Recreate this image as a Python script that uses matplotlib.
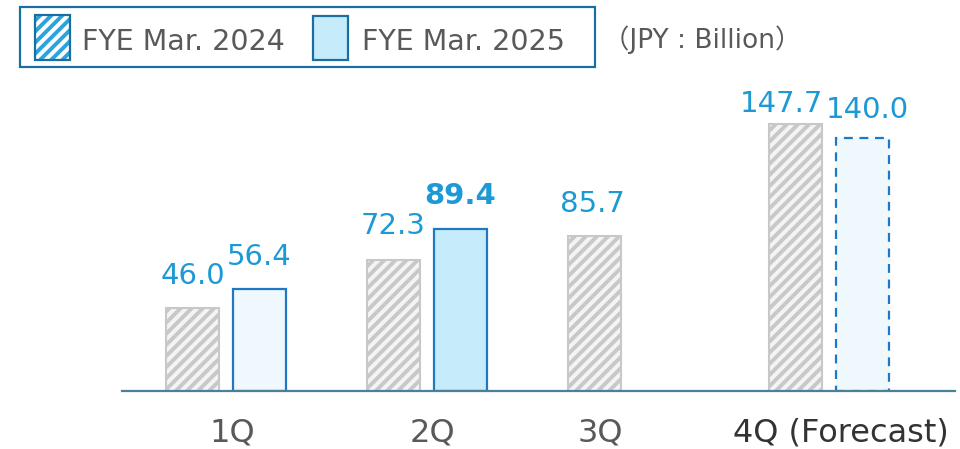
import matplotlib
matplotlib.use("Agg")
import matplotlib.pyplot as plt
from matplotlib.patches import Rectangle
import numpy as np

# ---- data ----
categories = ["1Q", "2Q", "3Q", "4Q (Forecast)"]
fy2024 = [46.0, 72.3, 85.7, 147.7]
fy2025 = [56.4, 89.4, None, 140.0]
legend_labels = ["FYE Mar. 2024", "FYE Mar. 2025"]
unit_label = "（JPY : Billion）"

plt.rcParams["font.family"] = ["DejaVu Sans", "Noto Sans CJK JP"]
plt.rcParams["hatch.linewidth"] = 2.8

W, H = 960, 449
fig = plt.figure(figsize=(W / 100, H / 100), dpi=100)

def fx(px):
    return px / W

def fy(py):
    return 1 - py / H

# axes geometry (pixel based)
ax_left, ax_right, ax_base, ax_top = 122, 955, 391, 75
ax = fig.add_axes([fx(ax_left), fy(ax_base), (ax_right - ax_left) / W, (ax_base - ax_top) / H])
px_per_unit_x = 201.0
px_per_unit_y = 1.8077
ax.set_xlim((ax_left - 226) / px_per_unit_x, (ax_right - 226) / px_per_unit_x)
ax.set_ylim(0, (ax_base - ax_top) / px_per_unit_y)

x = np.arange(len(categories))
bw = 53 / px_per_unit_x
off = 33.5 / px_per_unit_x

gray = "#c8c8c8"
blue_edge = "#1f78c1"
label_blue = "#1d9ad6"

# 2024 hatched gray bars
ax.bar(x - off, fy2024, width=bw, color="#f4f4f4", edgecolor=gray, hatch="///", linewidth=1.5)

# 2025 bars
fills = ["#eef8fd", "#c6ecfc", None, "#eef8fd"]
styles = ["solid", "solid", None, (0, (4, 3))]
for i, v in enumerate(fy2025):
    if v is None:
        continue
    ax.bar(x[i] + off, v, width=bw, color=fills[i], edgecolor=blue_edge,
           linewidth=1.6, linestyle=styles[i])

# value labels
dx24 = [0, 0, -2, -14]
dy24 = [24, 26, 24, 12]
dx25 = [0, 0, 0, 5]
dy25 = [24, 25, 0, 20]
bold25 = [False, True, False, False]
for i, v in enumerate(fy2024):
    ax.annotate(f"{v:.1f}", (x[i] - off, v), xytext=(dx24[i] * 0.72, dy24[i] * 0.72),
                textcoords="offset points", ha="center", va="baseline",
                fontsize=21, color=label_blue, annotation_clip=False)
for i, v in enumerate(fy2025):
    if v is None:
        continue
    ax.annotate(f"{v:.1f}", (x[i] + off, v), xytext=(dx25[i] * 0.72, dy25[i] * 0.72),
                textcoords="offset points", ha="center", va="baseline",
                fontsize=21, color=label_blue, annotation_clip=False,
                fontweight="bold" if bold25[i] else "normal")

# axes styling
for s in ["top", "right", "left"]:
    ax.spines[s].set_visible(False)
ax.spines["bottom"].set_color("#4a8098")
ax.spines["bottom"].set_linewidth(1.6)
ax.set_yticks([])
tick_pos = [x[0] + 6 / px_per_unit_x, x[1] + 5 / px_per_unit_x,
            x[2] - 28 / px_per_unit_x, x[3] + 12 / px_per_unit_x]
ax.set_xticks(tick_pos)
ax.set_xticklabels(categories, fontsize=23)
ax.tick_params(axis="x", length=0, pad=19, colors="#595959")
ax.get_xticklabels()[-1].set_color("#333333")
ax.patch.set_alpha(0)

# ---- legend (manual) ----
legend_edge = "#1a6fa0"
fig.add_artist(Rectangle((fx(20), fy(67)), (595 - 20) / W, 60 / H, transform=fig.transFigure,
                         fill=False, edgecolor=legend_edge, linewidth=1.6))
# patch 1: blue hatch
fig.add_artist(Rectangle((fx(35), fy(60)), 35 / W, 45 / H, transform=fig.transFigure,
                         facecolor="white", edgecolor="#2aa3de", hatch="///", linewidth=0))
fig.add_artist(Rectangle((fx(35), fy(60)), 35 / W, 45 / H, transform=fig.transFigure,
                         fill=False, edgecolor=legend_edge, linewidth=1.6))
# patch 2: light blue
fig.add_artist(Rectangle((fx(313), fy(60)), 35 / W, 44 / H, transform=fig.transFigure,
                         facecolor="#c6ecfc", edgecolor=legend_edge, linewidth=1.6))
fig.text(fx(82), fy(50), legend_labels[0], fontsize=20.5, color="#595959", va="baseline", ha="left")
fig.text(fx(362), fy(50), legend_labels[1], fontsize=20.5, color="#595959", va="baseline", ha="left")
fig.text(fx(603), fy(48), unit_label, fontsize=19, color="#595959", va="baseline", ha="left")

fig.savefig("out.png", dpi=100)
